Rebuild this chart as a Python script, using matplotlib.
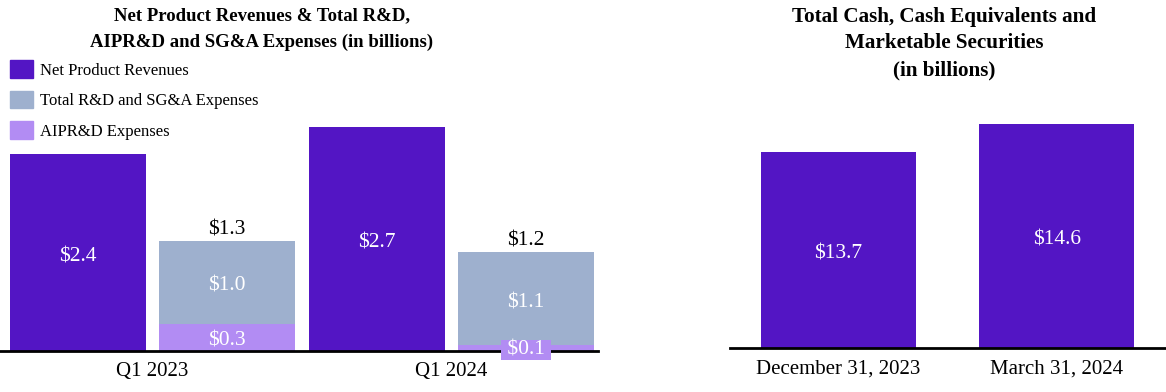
import matplotlib
matplotlib.use('Agg')
import matplotlib.pyplot as plt
from matplotlib.patches import Patch

plt.rcParams['font.family'] = ['Liberation Serif', 'DejaVu Serif']

# left chart data (billions)
quarters = ['Q1 2023', 'Q1 2024']
revenues = [2.37, 2.70]
sga = [1.00, 1.12]
aiprd = [0.33, 0.07]
rev_labels = ['$2.4', '$2.7']
sga_labels = ['$1.0', '$1.1']
aiprd_labels = ['$0.3', '$0.1']
total_labels = ['$1.3', '$1.2']

# right chart data (billions)
dates = ['December 31, 2023', 'March 31, 2024']
cash = [13.7, 14.6]
cash_labels = ['$13.7', '$14.6']

c_rev = '#5315c4'
c_sga = '#9eb0ce'
c_aip = '#b28cf3'
fs = 15.5


def label(ax, x, y, s, color='white', **kw):
    # nudge down a little so the digits sit visually centred
    ax.annotate(s, (x, y), xytext=(0, -3), textcoords='offset points',
                ha='center', va='center', color=color, fontsize=fs, **kw)


fig = plt.figure(figsize=(11.66, 3.92), dpi=100)

# ---- left chart
ax1 = fig.add_axes([0.0, 0.1046, 598 / 1166, 0.635])
xs = range(len(quarters))
off = 0.249
w = 0.455
for i in xs:
    ax1.bar(i - off, revenues[i], w, color=c_rev)
    ax1.bar(i + off, aiprd[i], w, color=c_aip)
    ax1.bar(i + off, sga[i], w, bottom=aiprd[i], color=c_sga)
    label(ax1, i - off, revenues[i] / 2, rev_labels[i])
    label(ax1, i + off, aiprd[i] + sga[i] / 2, sga_labels[i])
    tot = aiprd[i] + sga[i]
    label(ax1, i + off, tot + 0.18, total_labels[i], color='black')
    if aiprd[i] > 0.15:
        label(ax1, i + off, aiprd[i] / 2, aiprd_labels[i])
    else:
        # small segment: label sits on a box over the axis line
        label(ax1, i + off, aiprd[i] / 2 + 0.03, ' ' + aiprd_labels[i] + ' ', zorder=5,
              bbox=dict(facecolor=c_aip, edgecolor='none', pad=0.5))
ax1.set_xlim(-0.51, 1.49)
ax1.set_ylim(0, 3.0)
ax1.set_xticks(list(xs))
ax1.set_xticklabels(quarters, fontsize=15)
ax1.tick_params(axis='x', length=0, pad=8)
ax1.set_yticks([])
for s in ['top', 'right', 'left']:
    ax1.spines[s].set_visible(False)
ax1.spines['bottom'].set_linewidth(2)

# ---- right chart
ax2 = fig.add_axes([730 / 1166, 0.111, 436 / 1166, 0.634])
xs2 = range(len(dates))
ax2.bar(list(xs2), cash, 0.711, color=c_rev)
ymin = 7.37
for i in xs2:
    label(ax2, i, (ymin + cash[i]) / 2, cash_labels[i])
ax2.set_xlim(-0.498, 1.502)
ax2.set_ylim(ymin, ymin + 8.0)
ax2.set_xticks(list(xs2))
ax2.set_xticklabels(dates, fontsize=15)
ax2.tick_params(axis='x', length=0, pad=8)
ax2.set_yticks([])
for s in ['top', 'right', 'left']:
    ax2.spines[s].set_visible(False)
ax2.spines['bottom'].set_linewidth(2)

# titles
fig.text(262 / 1166, 1 - 29 / 392, 'Net Product Revenues & Total R&D,\nAIPR&D and SG&A Expenses (in billions)',
         ha='center', va='center', fontsize=13.5, fontweight='bold', linespacing=1.66)
fig.text(944 / 1166, 1 - 43.5 / 392, 'Total Cash, Cash Equivalents and\nMarketable Securities\n(in billions)',
         ha='center', va='center', fontsize=15.2, fontweight='bold', linespacing=1.44)

# legend
handles = [Patch(color=c_rev, label='Net Product Revenues'),
           Patch(color=c_sga, label='Total R&D and SG&A Expenses'),
           Patch(color=c_aip, label='AIPR&D Expenses')]
fig.legend(handles=handles, loc='upper left', bbox_to_anchor=(10 / 1166, 1 - 60.5 / 392),
           frameon=False, fontsize=12, handlelength=1.35, handleheight=1.2,
           labelspacing=0.74, handletextpad=0.42, borderaxespad=0, borderpad=0)

fig.savefig('out.png', dpi=100)
